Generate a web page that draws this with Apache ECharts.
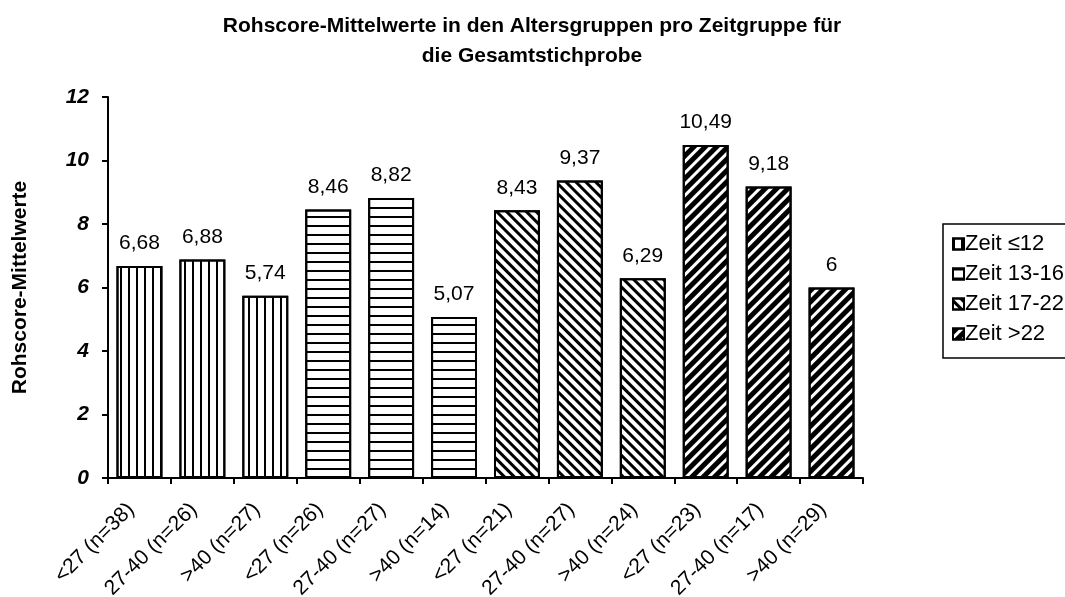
<!DOCTYPE html>
<html>
<head>
<meta charset="utf-8">
<script src="https://cdn.jsdelivr.net/npm/echarts@6/dist/echarts.min.js"></script>
<style>
  html, body { margin: 0; padding: 0; background: #fff; }
  #chart { width: 1065px; height: 597px; }
</style>
</head>
<body>
<div id="chart"></div>
<script>
const categories = [
  '<27 (n=38)', '27-40 (n=26)', '>40 (n=27)',
  '<27 (n=26)', '27-40 (n=27)', '>40 (n=14)',
  '<27 (n=21)', '27-40 (n=27)', '>40 (n=24)',
  '<27 (n=23)', '27-40 (n=17)', '>40 (n=29)'
]
const seriesNames = ['Zeit ≤12', 'Zeit 13-16', 'Zeit 17-22', 'Zeit >22']
const zeit12 = [6.68, 6.88, 5.74, null, null, null, null, null, null, null, null, null]
const zeit1316 = [null, null, null, 8.46, 8.82, 5.07, null, null, null, null, null, null]
const zeit1722 = [null, null, null, null, null, null, 8.43, 9.37, 6.29, null, null, null]
const zeit22 = [null, null, null, null, null, null, null, null, null, 10.49, 9.18, 6]
const yTicks = [0, 2, 4, 6, 8, 10, 12]

// hatch fills, one per Zeit group
const decals = [
  { symbol: 'rect', symbolSize: 1, color: '#000', dashArrayX: [1.6, 6], dashArrayY: [1, 0] },
  { symbol: 'rect', symbolSize: 1, color: '#000', dashArrayX: [1, 0], dashArrayY: [1.6, 6.4] },
  { symbol: 'rect', symbolSize: 1, color: '#000', dashArrayX: [1, 0], dashArrayY: [2.8, 3.8], rotation: Math.PI / 4 },
  { symbol: 'rect', symbolSize: 1, color: '#000', dashArrayX: [1, 0], dashArrayY: [4.2, 2.4], rotation: -Math.PI / 4 }
]
const seriesData = [zeit12, zeit1316, zeit1722, zeit22]

const fmt = v => String(v).replace('.', ',')

const chart = echarts.init(document.getElementById('chart'))
chart.setOption({
  animation: false,
  textStyle: { fontFamily: 'Liberation Sans, Arial, sans-serif' },
  title: {
    text: 'Rohscore-Mittelwerte in den Altersgruppen pro Zeitgruppe für\ndie Gesamtstichprobe',
    left: 527,
    textAlign: 'center',
    top: 6,
    textStyle: { fontSize: 21, fontWeight: 'bold', color: '#000', lineHeight: 30 }
  },
  legend: {
    orient: 'vertical',
    left: 943,
    top: 224,
    padding: [9, 40, 13, 9],
    itemGap: 8,
    itemWidth: 11,
    itemHeight: 11,
    borderColor: '#000',
    borderWidth: 1.5,
    borderRadius: 0,
    icon: 'rect',
    textStyle: { fontSize: 22, lineHeight: 21, color: '#000', padding: [0, 0, 0, -4] },
    data: seriesNames
  },
  grid: { left: 108, right: 202, top: 97, bottom: 119, outerBoundsMode: 'none' },
  xAxis: {
    type: 'category',
    data: categories,
    axisLine: { lineStyle: { color: '#000', width: 2 } },
    axisTick: { show: true, length: 6, lineStyle: { color: '#000', width: 2 } },
    axisLabel: { rotate: 45, fontSize: 21, color: '#000', margin: 20, padding: [0, 12, 0, 0], interval: 0 }
  },
  yAxis: {
    type: 'value',
    min: yTicks[0],
    max: yTicks[yTicks.length - 1],
    interval: 2,
    name: 'Rohscore-Mittelwerte',
    nameLocation: 'middle',
    nameGap: 77,
    nameTextStyle: { fontSize: 21, fontWeight: 'bold', color: '#000' },
    splitLine: { show: false },
    axisLine: { show: true, lineStyle: { color: '#000', width: 2 } },
    axisTick: { show: true, length: 6, lineStyle: { color: '#000', width: 2 } },
    axisLabel: { fontSize: 21, fontWeight: 'bold', fontStyle: 'italic', color: '#000', margin: 19 }
  },
  series: seriesData.map((data, i) => ({
    name: seriesNames[i],
    type: 'bar',
    stack: 'all',
    barWidth: '73%',
    data: data.map(v => (v == null ? '-' : v)),
    itemStyle: { color: '#fff', borderColor: '#000', borderWidth: 2, decal: decals[i] },
    label: {
      show: true,
      position: 'top',
      distance: 12,
      fontSize: 21,
      color: '#000',
      formatter: p => (typeof p.value === 'number' ? fmt(p.value) : '')
    }
  }))
})
</script>
</body>
</html>
